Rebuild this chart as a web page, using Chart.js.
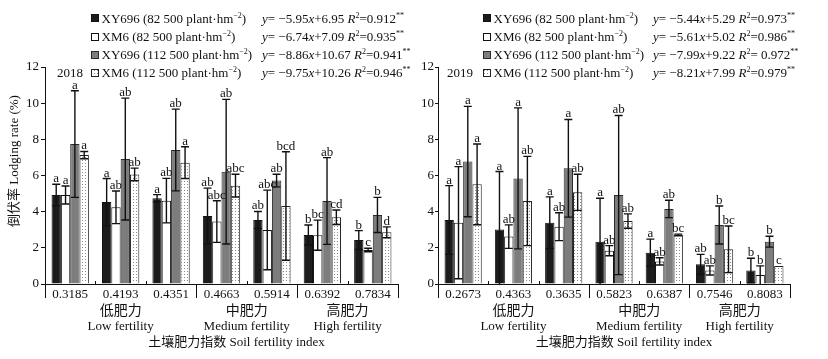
<!DOCTYPE html>
<html><head><meta charset="utf-8">
<script src="https://cdn.jsdelivr.net/npm/chart.js@4/dist/chart.umd.min.js"></script>
<style>
html,body{margin:0;padding:0;background:#fff;}
#wrap{position:relative;width:828px;height:359px;overflow:hidden;background:#fff;}
canvas{position:absolute;left:0;top:0;}
</style></head><body>
<div id="wrap">
<canvas id="c1" width="828" height="359"></canvas>
<canvas id="c2" width="828" height="359"></canvas>
</div>
<script>
// ---------- DATA ----------
const categories2018 = ['0.3185','0.4193','0.4351','0.4663','0.5914','0.6392','0.7834'];
const categories2019 = ['0.2673','0.4363','0.3635','0.5823','0.6387','0.7546','0.8083'];
const yTicks = [0,2,4,6,8,10,12];
const seriesNames = ['XY696 (82 500 plant·hm','XM6 (82 500 plant·hm','XY696 (112 500 plant·hm','XM6 (112 500 plant·hm'];

// 2018
const xy696_82_2018 = [4.92,4.53,4.74,3.76,3.54,2.71,2.43];
const xy696_82_2018_err = [0.60,1.30,0.20,1.54,0.47,0.55,0.52];
const xy696_82_2018_sig = ['a','a','a','ab','ab','b','b'];
const xm6_82_2018 = [4.92,4.24,4.61,3.45,2.99,2.70,1.88];
const xm6_82_2018_err = [0.50,0.90,1.23,1.15,2.20,0.83,0.10];
const xm6_82_2018_sig = ['a','ab','ab','abc','abc','bc','c'];
const xy696_112_2018 = [7.74,6.91,7.41,6.21,5.72,4.59,3.82];
const xy696_112_2018_err = [2.95,3.37,2.26,4.00,0.35,2.40,0.97];
const xy696_112_2018_sig = ['a','ab','ab','ab','ab','ab','b'];
const xm6_112_2018 = [7.13,6.06,6.71,5.44,4.31,3.69,2.86];
const xm6_112_2018_err = [0.20,0.35,0.88,0.63,3.00,0.40,0.30];
const xm6_112_2018_sig = ['a','ab','a','abc','bcd','cd','d'];
const eq2018 = [['−5.95','6.95','0.912'],['−6.74','7.09','0.935'],['−8.86','10.67','0.941'],['−9.75','10.26','0.946']];

// 2019
const xy696_82_2019 = [3.54,3.02,3.39,2.34,1.73,1.09,0.74];
const xy696_82_2019_err = [1.90,3.20,1.43,2.40,0.75,0.55,0.68];
const xy696_82_2019_sig = ['a','a','a','a','a','ab','b'];
const xm6_82_2019 = [3.39,2.62,3.17,1.84,1.25,0.75,0.50];
const xm6_82_2019_err = [3.10,0.65,0.77,0.28,0.20,0.25,0.50];
const xm6_82_2019_sig = ['a','ab','ab','ab','ab','ab','b'];
const xy696_112_2019 = [6.77,5.84,6.40,4.92,4.15,3.26,2.34];
const xy696_112_2019_err = [3.05,3.90,2.70,4.40,0.48,1.05,0.30];
const xy696_112_2019_sig = ['a','a','a','ab','ab','b','b'];
const xm6_112_2019 = [5.51,4.59,5.07,3.48,2.71,1.92,1.00];
const xm6_112_2019_err = [2.23,2.47,1.00,0.40,0.05,1.29,0.00];
const xm6_112_2019_sig = ['a','ab','ab','ab','bc','bc','c'];
const eq2019 = [['−5.44','5.29','0.973'],['−5.61','5.02','0.986'],['−7.99','9.22',' 0.972'],['−8.21','7.99','0.979']];

// ---------- STYLE ----------
const FONT = '"Liberation Serif","Times New Roman","Noto Sans CJK SC",serif';
const CJK = '"Liberation Serif","Noto Sans CJK SC",serif';

function dotPattern(ctx){
  const c = document.createElement('canvas'); c.width = 3; c.height = 3;
  const x = c.getContext('2d');
  x.fillStyle = '#fff'; x.fillRect(0,0,3,3);
  x.fillStyle = '#8a8a8a'; x.fillRect(1,1,1,1);
  return ctx.createPattern(c,'repeat');
}
const fills = ['#1c1c1c','#ffffff','#7d7d7d', null];
const borders = ['#111','#111','#2a2a2a','#222'];

function drawRich(ctx, x, y, segs, size){
  let cx = x;
  for (const s of segs){
    const fs = s.sup ? Math.round(size*0.6) : size;
    ctx.font = (s.it ? 'italic ' : '') + fs + 'px ' + FONT;
    ctx.fillText(s.t, cx, y + (s.sup ? -size*0.4 : 0));
    cx += ctx.measureText(s.t).width;
  }
}

function makeChart(id, cfg){
  const ctx0 = document.getElementById(id).getContext('2d');
  const pat = dotPattern(ctx0);
  const vals = cfg.vals, errs = cfg.errs, sigs = cfg.sigs;
  const datasets = vals.map((v,k)=>({
    label: seriesNames[k], data: v, err: errs[k], sig: sigs[k],
    backgroundColor: fills[k] || pat, borderColor: borders[k], borderWidth: 1,
    borderSkipped: 'start'
  }));
  const plugin = {
    id: 'custom' + id,
    afterDatasetsDraw(chart){
      const ctx = chart.ctx, ys = chart.scales.y;
      ctx.save();
      chart.data.datasets.forEach((ds,di)=>{
        const meta = chart.getDatasetMeta(di);
        meta.data.forEach((bar,i)=>{
          const v = ds.data[i], e = ds.err[i];
          const top = ys.getPixelForValue(v + e);
          const lowV = Math.max(0, v - e);
          const bot = ys.getPixelForValue(lowV);
          ctx.strokeStyle = '#111'; ctx.lineWidth = 1.4;
          ctx.beginPath();
          if (e > 0.02){
            ctx.moveTo(bar.x, top); ctx.lineTo(bar.x, bot);
            ctx.moveTo(bar.x-4, top); ctx.lineTo(bar.x+4, top);
            if (lowV > 0) { ctx.moveTo(bar.x-4, bot); ctx.lineTo(bar.x+4, bot); }
          }
          ctx.stroke();
          ctx.fillStyle = '#111';
          ctx.font = '13px ' + FONT;
          ctx.textAlign = 'center'; ctx.textBaseline = 'alphabetic';
          ctx.fillText(ds.sig[i], bar.x, top - 2);
        });
      });
      ctx.restore();
    },
    afterDraw(chart){
      const ctx = chart.ctx, xs = chart.scales.x, ca = chart.chartArea;
      const n = chart.data.labels.length;
      const cw = (ca.right - ca.left) / n;
      ctx.save();
      ctx.strokeStyle = '#111'; ctx.lineWidth = 1;
      for (let b = 0; b <= n; b++){
        const x = Math.round(ca.left + b*cw) + 0.5;
        ctx.beginPath();
        if (b === 0 || b === 3 || b === 5 || b === n){
          ctx.moveTo(x, ca.bottom); ctx.lineTo(x, ca.bottom + 14);
        } else {
          ctx.moveTo(x, ca.bottom); ctx.lineTo(x, ca.bottom - 3);
        }
        ctx.stroke();
      }
      ctx.fillStyle = '#111';
      ctx.textAlign = 'center'; ctx.textBaseline = 'middle';
      const groups = [[0,2,'低肥力','Low fertility'],[3,4,'中肥力','Medium fertility'],[5,6,'高肥力','High fertility']];
      groups.forEach(g=>{
        const cx = (xs.getPixelForValue(g[0]) + xs.getPixelForValue(g[1]))/2;
        ctx.font = '14px ' + CJK; ctx.fillText(g[2], cx, 311);
        ctx.font = '13px ' + FONT; ctx.fillText(g[3], cx, 327);
      });
      ctx.font = '13px ' + CJK;
      ctx.fillText('土壤肥力指数 Soil fertility index', (ca.left+ca.right)/2 + cfg.titleShift, 343);
      if (cfg.yTitle){
        ctx.save();
        ctx.translate(15, 161); ctx.rotate(-Math.PI/2);
        ctx.font = '13px ' + CJK;
        ctx.fillText(cfg.yTitle, 0, 0);
        ctx.restore();
      }
      ctx.textAlign = 'left'; ctx.textBaseline = 'alphabetic';
      ctx.font = '13px ' + FONT;
      ctx.fillText(cfg.year, cfg.yearX, 77);
      const rows = [18.3, 36.5, 54.5, 72.5];
      rows.forEach((ry,k)=>{
        const mx = cfg.legX + 0.5, my = Math.round(ry - 4) + 0.5;
        ctx.lineWidth = 1;
        ctx.fillStyle = (k === 3) ? pat : fills[k];
        ctx.fillRect(mx, my, 7, 7);
        ctx.strokeStyle = borders[k]; ctx.strokeRect(mx, my, 7, 7);
        ctx.fillStyle = '#111';
        drawRich(ctx, mx + 10, ry + 4.5, [{t: seriesNames[k]},{t:'−2', sup:1},{t:')'}], 13);
        const q = cfg.eq[k];
        drawRich(ctx, cfg.eqX, ry + 4.5, [{t:'y',it:1},{t:'= '+q[0]},{t:'x',it:1},{t:'+'+q[1]+' '},{t:'R',it:1},{t:'2',sup:1},{t:'='+q[2]},{t:'**',sup:1}], 13);
      });
      ctx.restore();
    }
  };
  return new Chart(ctx0, {
    type: 'bar',
    data: { labels: cfg.labels, datasets },
    options: {
      responsive: false, animation: false, devicePixelRatio: 1,
      layout: { padding: { top: 67, right: cfg.padRight, left: cfg.padLeft, bottom: 0 } },
      plugins: { legend: { display: false }, tooltip: { enabled: false } },
      datasets: { bar: { categoryPercentage: 0.74, barPercentage: 1.0 } },
      scales: {
        x: {
          grid: { display: false, drawTicks: false },
          border: { display: true, color: '#111', width: 1 },
          ticks: { color: '#111', font: { family: FONT, size: 13 }, padding: 3, maxRotation: 0, autoSkip: false },
          afterFit(s){ s.height = 75; }
        },
        y: {
          min: 0, max: 12,
          afterBuildTicks(s){ s.ticks = yTicks.map(v=>({value:v})); },
          grid: { drawOnChartArea: false, drawTicks: true, tickLength: cfg.tickLen, color: '#111' },
          border: { display: true, color: '#111', width: 1 },
          ticks: { color: '#111', font: { family: FONT, size: 13 }, padding: cfg.tickPad },
          afterFit(s){ s.width = cfg.yWidth; }
        }
      }
    },
    plugins: [plugin]
  });
}

makeChart('c1', {
  labels: categories2018,
  vals: [xy696_82_2018, xm6_82_2018, xy696_112_2018, xm6_112_2018],
  errs: [xy696_82_2018_err, xm6_82_2018_err, xy696_112_2018_err, xm6_112_2018_err],
  sigs: [xy696_82_2018_sig, xm6_82_2018_sig, xy696_112_2018_sig, xm6_112_2018_sig],
  eq: eq2018, year: '2018', yearX: 57, legX: 91, eqX: 262,
  yTitle: '倒伏率 Lodging rate (%)', yWidth: 45, padLeft: 0, padRight: 430, tickLen: 4, tickPad: 2, titleShift: 15
});
makeChart('c2', {
  labels: categories2019,
  vals: [xy696_82_2019, xm6_82_2019, xy696_112_2019, xm6_112_2019],
  errs: [xy696_82_2019_err, xm6_82_2019_err, xy696_112_2019_err, xm6_112_2019_err],
  sigs: [xy696_82_2019_sig, xm6_82_2019_sig, xy696_112_2019_sig, xm6_112_2019_sig],
  eq: eq2019, year: '2019', yearX: 447, legX: 483, eqX: 653,
  yTitle: null, yWidth: 24, padLeft: 414, padRight: 38, tickLen: 3, tickPad: 1, titleShift: 10
});
</script>
</body></html>
